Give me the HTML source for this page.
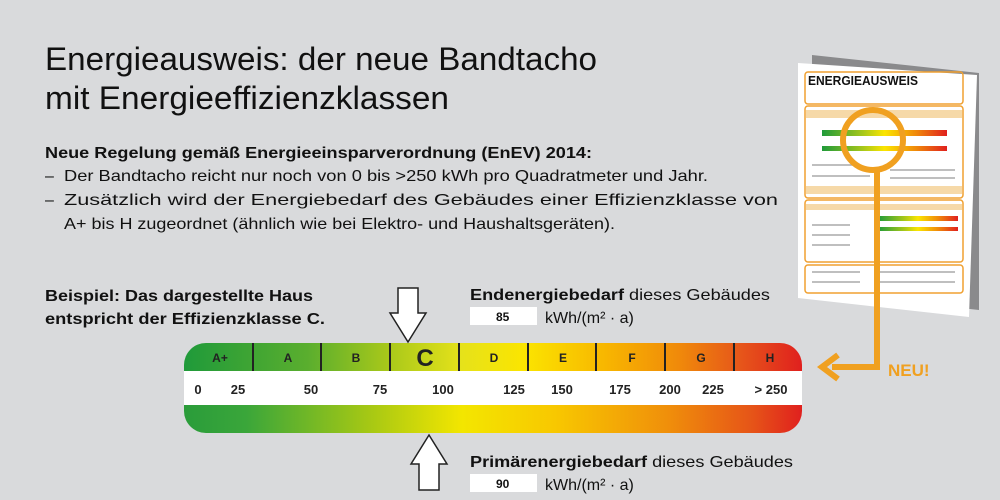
<!DOCTYPE html>
<html><head><meta charset="utf-8"><style>
html,body{margin:0;padding:0;background:#d9dadc;}
svg{display:block;font-family:"Liberation Sans",sans-serif;}
</style></head><body>
<svg width="1000" height="500" viewBox="0 0 1000 500" xmlns="http://www.w3.org/2000/svg">
<defs>
<linearGradient id="top" x1="184" x2="802" gradientUnits="userSpaceOnUse">
<stop offset="0" stop-color="#1f9a3a"/><stop offset="0.2" stop-color="#5aae2e"/><stop offset="0.33" stop-color="#a8c81a"/><stop offset="0.45" stop-color="#e6e21a"/><stop offset="0.55" stop-color="#fbe500"/><stop offset="0.68" stop-color="#f8b700"/><stop offset="0.8" stop-color="#f08a0a"/><stop offset="0.9" stop-color="#e6561a"/><stop offset="1" stop-color="#e0201e"/>
</linearGradient>
<linearGradient id="bot" x1="184" x2="802" gradientUnits="userSpaceOnUse">
<stop offset="0" stop-color="#2a9c3a"/><stop offset="0.1" stop-color="#3aa63a"/><stop offset="0.3" stop-color="#a6c814"/><stop offset="0.45" stop-color="#f3e600"/><stop offset="0.6" stop-color="#f8c800"/><stop offset="0.78" stop-color="#f0900a"/><stop offset="0.92" stop-color="#e65418"/><stop offset="1" stop-color="#e0201e"/>
</linearGradient>
<linearGradient id="mini" x1="0" x2="1">
<stop offset="0" stop-color="#1f9a3a"/><stop offset="0.33" stop-color="#a8c81a"/><stop offset="0.5" stop-color="#fbe500"/><stop offset="0.75" stop-color="#f08a0a"/><stop offset="1" stop-color="#e0201e"/>
</linearGradient>
<clipPath id="bar"><rect x="184" y="343" width="618" height="90" rx="22"/></clipPath>
</defs>
<rect width="1000" height="500" fill="#d9dadc"/>
<text x="45" y="70" font-size="32" textLength="552" lengthAdjust="spacingAndGlyphs" fill="#111">Energieausweis: der neue Bandtacho</text>
<text x="45" y="109" font-size="32" textLength="404" lengthAdjust="spacingAndGlyphs" fill="#111">mit Energieeffizienzklassen</text>
<text x="45" y="158" font-size="16" font-weight="bold" textLength="547" lengthAdjust="spacingAndGlyphs" fill="#111">Neue Regelung gemäß Energieeinsparverordnung (EnEV) 2014:</text>
<g font-size="16" fill="#111">
<text x="45" y="181">–</text><text x="64" y="181" textLength="644" lengthAdjust="spacingAndGlyphs">Der Bandtacho reicht nur noch von 0 bis &gt;250 kWh pro Quadratmeter und Jahr.</text>
<text x="45" y="205">–</text><text x="64" y="205" textLength="714" lengthAdjust="spacingAndGlyphs">Zusätzlich wird der Energiebedarf des Gebäudes einer Effizienzklasse von</text>
<text x="64" y="229" textLength="551" lengthAdjust="spacingAndGlyphs">A+ bis H zugeordnet (ähnlich wie bei Elektro- und Haushaltsgeräten).</text>
<text x="45" y="301" font-weight="bold" textLength="268" lengthAdjust="spacingAndGlyphs">Beispiel: Das dargestellte Haus</text>
<text x="45" y="324" font-weight="bold" textLength="280" lengthAdjust="spacingAndGlyphs">entspricht der Effizienzklasse C.</text>
<text x="470" y="300" textLength="300" lengthAdjust="spacingAndGlyphs"><tspan font-weight="bold">Endenergiebedarf</tspan> dieses Gebäudes</text>
<text x="470" y="467" textLength="323" lengthAdjust="spacingAndGlyphs"><tspan font-weight="bold">Primärenergiebedarf</tspan> dieses Gebäudes</text>
<rect x="470" y="307" width="67" height="18" fill="#fff"/>
<text x="496" y="321" font-size="12" font-weight="bold">85</text>
<text x="545" y="323">kWh/(m² · a)</text>
<rect x="470" y="474" width="67" height="18" fill="#fff"/>
<text x="496" y="488" font-size="12" font-weight="bold">90</text>
<text x="545" y="490">kWh/(m² · a)</text>
</g>
<g clip-path="url(#bar)">
<rect x="184" y="343" width="618" height="28" fill="url(#top)"/>
<rect x="184" y="371" width="618" height="34" fill="#fff"/>
<rect x="184" y="405" width="618" height="28" fill="url(#bot)"/>
</g>
<g stroke="#222" stroke-width="2">
<line x1="253" y1="343" x2="253" y2="371"/><line x1="321" y1="343" x2="321" y2="371"/><line x1="390" y1="343" x2="390" y2="371"/><line x1="459" y1="343" x2="459" y2="371"/><line x1="528" y1="343" x2="528" y2="371"/><line x1="596" y1="343" x2="596" y2="371"/><line x1="665" y1="343" x2="665" y2="371"/><line x1="734" y1="343" x2="734" y2="371"/>
</g>
<g font-size="12" font-weight="bold" fill="#222" text-anchor="middle">
<text x="220" y="362">A+</text><text x="288" y="362">A</text><text x="356" y="362">B</text>
<text x="425" y="366" font-size="24">C</text>
<text x="494" y="362">D</text><text x="563" y="362">E</text><text x="632" y="362">F</text><text x="701" y="362">G</text><text x="770" y="362">H</text>
</g>
<g font-size="13" font-weight="bold" fill="#222" text-anchor="middle">
<text x="198" y="394">0</text><text x="238" y="394">25</text><text x="311" y="394">50</text><text x="380" y="394">75</text><text x="443" y="394">100</text><text x="514" y="394">125</text><text x="562" y="394">150</text><text x="620" y="394">175</text><text x="670" y="394">200</text><text x="713" y="394">225</text><text x="771" y="394">&gt; 250</text>
</g>
<path d="M398,288 H418 V313 H426 L408,342 L390,313 H398 Z" fill="#fff" stroke="#222" stroke-width="1.5"/>
<path d="M429,435 L447,464 H439 V490 H419 V464 H411 Z" fill="#fff" stroke="#222" stroke-width="1.5"/>
<!-- document -->
<polygon points="812,55 979,73 979,310 812,292" fill="#8a8a8c"/>
<polygon points="798,63 977,75 969,317 798,298" fill="#fff"/>
<text x="808" y="85" font-size="13" font-weight="bold" fill="#111" textLength="110" lengthAdjust="spacingAndGlyphs">ENERGIEAUSWEIS</text>
<g fill="none" stroke="#f0a030" stroke-width="1.5">
<rect x="805" y="72" width="158" height="32" rx="3"/>
<rect x="805" y="106" width="158" height="92" rx="3"/>
<rect x="805" y="200" width="158" height="62" rx="3"/>
<rect x="805" y="265" width="158" height="28" rx="3"/>
</g>
<rect x="806" y="110" width="156" height="8" fill="#f6d9a8"/>
<rect x="806" y="186" width="156" height="8" fill="#f6d9a8"/>
<rect x="806" y="204" width="156" height="6" fill="#f6d9a8"/>
<rect x="822" y="130" width="125" height="6" fill="url(#mini)"/>
<rect x="822" y="146" width="125" height="5" fill="url(#mini)"/>
<rect x="878" y="216" width="80" height="5" fill="url(#mini)"/>
<rect x="878" y="227" width="80" height="4" fill="url(#mini)"/>
<g stroke="#999" stroke-width="1.2">
<line x1="812" y1="165" x2="860" y2="165"/><line x1="812" y1="176" x2="870" y2="176"/><line x1="890" y1="170" x2="955" y2="170"/><line x1="890" y1="178" x2="955" y2="178"/>
<line x1="812" y1="225" x2="850" y2="225"/><line x1="812" y1="235" x2="850" y2="235"/><line x1="812" y1="245" x2="850" y2="245"/>
<line x1="812" y1="272" x2="860" y2="272"/><line x1="812" y1="282" x2="860" y2="282"/><line x1="880" y1="272" x2="955" y2="272"/><line x1="880" y1="282" x2="955" y2="282"/>
</g>
<circle cx="873" cy="140" r="30" fill="none" stroke="#f0a020" stroke-width="6"/>
<polyline points="877,170 877,367 832,367" fill="none" stroke="#f0a020" stroke-width="6"/>
<path d="M838,355 L822,367 L838,379" fill="none" stroke="#f0a020" stroke-width="6"/>
<text x="888" y="376" font-size="17" font-weight="bold" fill="#f0a020">NEU!</text>
</svg>
</body></html>
